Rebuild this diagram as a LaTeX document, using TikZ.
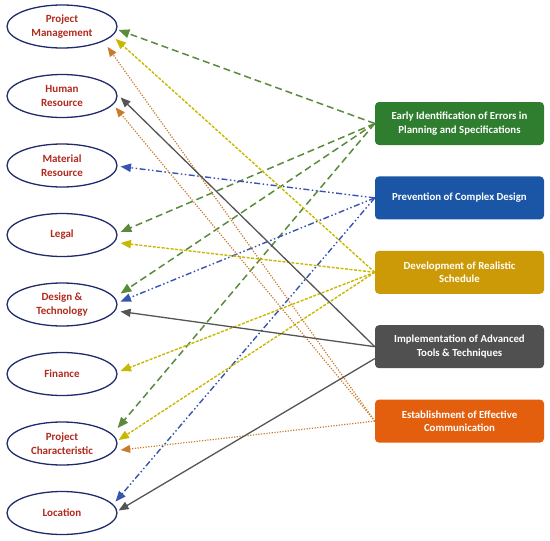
\documentclass[tikz,border=0pt]{standalone}
\usepackage{fontspec}
\setmainfont{Carlito}
\usetikzlibrary{shapes.geometric, positioning, arrows, calc}

\definecolor{ovalline}{HTML}{1F2A6B}
\definecolor{ovaltext}{HTML}{B02A1E}
\definecolor{greenbox}{HTML}{2F7D2F}
\definecolor{greenln}{HTML}{5A8A3C}
\definecolor{bluebox}{HTML}{1A56A5}
\definecolor{blueln}{HTML}{3654B0}
\definecolor{yellowbox}{HTML}{CC9A06}
\definecolor{yellowln}{HTML}{C9B800}
\definecolor{graybox}{HTML}{505050}
\definecolor{grayln}{HTML}{555555}
\definecolor{orangebox}{HTML}{E35F0E}
\definecolor{orangeln}{HTML}{C97A2A}

\tikzset{
    factor/.style={ellipse, draw=ovalline, line width=1.3pt, minimum width=110pt,
        minimum height=43pt, inner sep=0pt, align=center, text=ovaltext,
        font=\bfseries\fontsize{11}{14}\selectfont},
    measure/.style={rectangle, rounded corners=4pt, minimum width=169pt,
        minimum height=43pt, align=center, text=white,
        font=\bfseries\fontsize{10.8}{13.5}\selectfont},
    greenline/.style={draw=greenln, line width=1.5pt, dash pattern=on 7pt off 4pt},
    blueline/.style={draw=blueln, line width=1.4pt,
        dash pattern=on 6pt off 2.5pt on 1.5pt off 2.5pt on 1.5pt off 2.5pt},
    yellowline/.style={draw=yellowln, line width=1.4pt, dash pattern=on 3pt off 1.5pt},
    orangeline/.style={draw=orangeln, line width=1.2pt, dash pattern=on 1.2pt off 1.5pt},
    grayline/.style={draw=grayln, line width=1.3pt}
}

\begin{document}
\begin{tikzpicture}[x=1pt, y=-1pt, on grid, >=triangle 45]
    \useasboundingbox (0,0) rectangle (550,541);

    % factors
    \node[factor] (pm) at (62,26.5) {Project\\Management};
    \node[factor] (hr) [below=69.5pt of pm] {Human\\Resource};
    \node[factor] (mr) [below=69.5pt of hr] {Material\\Resource};
    \node[factor] (legal) [below=69.5pt of mr] {Legal};
    \node[factor] (dt) [below=69.5pt of legal] {Design \&\\Technology};
    \node[factor] (fin) [below=69.5pt of dt] {Finance};
    \node[factor] (pc) [below=69.5pt of fin] {Project\\Characteristic};
    \node[factor] (loc) [below=69.5pt of pc] {Location};

    % measures
    \node[measure, fill=greenbox] (eis) at (459.5,123.5) {Early Identification of Errors in\\Planning and Specifications};
    \node[measure, fill=bluebox] (pcd) [below=74.4pt of eis] {Prevention of Complex Design};
    \node[measure, fill=yellowbox] (drs) [below=74.4pt of pcd] {Development of Realistic\\Schedule};
    \node[measure, fill=graybox] (iat) [below=74.4pt of drs] {Implementation of Advanced\\Tools \& Techniques};
    \node[measure, fill=orangebox] (eec) [below=74.4pt of iat] {Establishment of Effective\\Communication};

    \path[->]
        (eis.west) edge[greenline] ($(pm.east)+(1,3.5)$)
        (eis.west) edge[greenline] ($(legal.east)+(3,-3)$)
        (eis.west) edge[greenline] ($(dt.east)+(3,-11)$)
        (eis.west) edge[greenline] ($(pc.east)+(0,-15.5)$)
        (pcd.west) edge[blueline] ($(mr.east)+(3,1)$)
        (pcd.west) edge[blueline] ($(dt.east)+(3,-3)$)
        (pcd.west) edge[blueline] ($(loc.east)+(-2,-11.5)$)
        (drs.west) edge[yellowline] ($(pm.east)+(-2,12.5)$)
        (drs.west) edge[yellowline] ($(legal.east)+(3,8)$)
        (drs.west) edge[yellowline] ($(fin.east)+(3,-3)$)
        (drs.west) edge[yellowline] ($(pc.east)+(1,-3.5)$)
        (eec.west) edge[orangeline] ($(pm.east)+(-10,20.5)$)
        (eec.west) edge[orangeline] ($(hr.east)+(-2,11.5)$)
        (eec.west) edge[orangeline] ($(pc.east)+(3,6.5)$)
        (iat.west) edge[grayline] ($(hr.east)+(3,1.5)$)
        (iat.west) edge[grayline] ($(dt.east)+(3,7)$)
        (iat.188) edge[grayline] ($(loc.east)+(1,-2.5)$);
\end{tikzpicture}
\end{document}
